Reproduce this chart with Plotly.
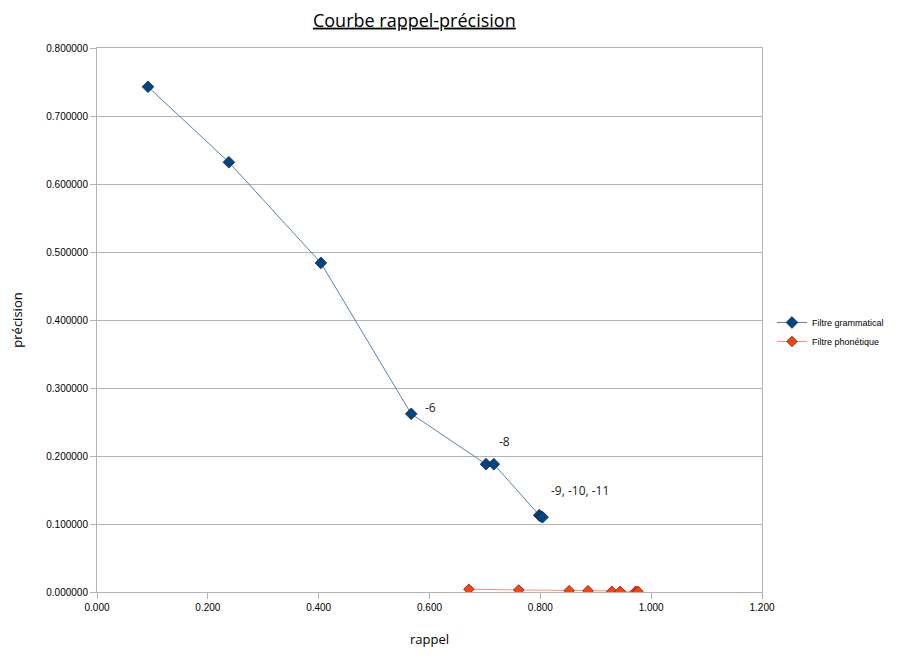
import plotly.graph_objects as go

# Data
gram_rappel = [0.092, 0.238, 0.404, 0.567, 0.702, 0.716, 0.798, 0.801, 0.804]
gram_precision = [0.743, 0.632, 0.484, 0.262, 0.188, 0.188, 0.113, 0.111, 0.110]

phon_rappel = [0.671, 0.761, 0.852, 0.886, 0.929, 0.944, 0.972, 0.976]
phon_precision = [0.004, 0.003, 0.002, 0.002, 0.001, 0.001, 0.001, 0.001]

label_texts = ["-6", "-8", "-9, -10, -11"]
label_x = [0.601, 0.736, 0.871]
label_y = [0.272, 0.222, 0.150]

x_ticks = [0.0, 0.2, 0.4, 0.6, 0.8, 1.0, 1.2]
y_ticks = [0.0, 0.1, 0.2, 0.3, 0.4, 0.5, 0.6, 0.7, 0.8]

fig = go.Figure()
fig.add_trace(go.Scatter(
    x=gram_rappel, y=gram_precision, mode="lines+markers",
    name="Filtre grammatical",
    line=dict(color="#5b7fae", width=1),
    marker=dict(symbol="diamond", size=9, color="#004586",
                line=dict(color="#1a2a3a", width=0.8)),
))
fig.add_trace(go.Scatter(
    x=phon_rappel, y=phon_precision, mode="lines+markers",
    name="Filtre phonétique",
    line=dict(color="#ff8a78", width=1),
    marker=dict(symbol="diamond", size=8, color="#ff420e",
                line=dict(color="#5a1a08", width=0.8)),
))

for t, x, y in zip(label_texts, label_x, label_y):
    fig.add_annotation(x=x, y=y, text=t, showarrow=False,
                       font=dict(family="Open Sans", size=12, color="#222222"))

fig.update_layout(
    width=897, height=649,
    paper_bgcolor="white", plot_bgcolor="white",
    margin=dict(l=89, r=143, t=40, b=65, autoexpand=False),
    title=dict(text="<u>Courbe rappel-précision</u>", x=0.453, xanchor="center",
               y=0.981, yanchor="middle",
               font=dict(family="Open Sans", size=18, color="#000000")),
    legend=dict(x=1.015, y=0.478, xanchor="left", yanchor="middle",
                font=dict(family="Liberation Sans", size=9, color="#000000"),
                itemwidth=30, tracegroupgap=0, bgcolor="rgba(0,0,0,0)"),
    showlegend=True,
)
fig.update_xaxes(
    range=[0, 1.2], tickvals=x_ticks, tickformat=".3f",
    showgrid=False, zeroline=False,
    showline=True, linecolor="#b3b3b3", linewidth=1, mirror=True,
    ticks="outside", ticklen=6, tickcolor="#b3b3b3",
    tickfont=dict(family="Liberation Sans", size=10, color="#000000"),
    title=dict(text="rappel", font=dict(family="Open Sans", size=13, color="#000000"),
               standoff=22),
)
fig.update_yaxes(
    range=[0, 0.8], tickvals=y_ticks, tickformat=".6f",
    showgrid=True, gridcolor="#b3b3b3", gridwidth=1, zeroline=False,
    showline=True, linecolor="#b3b3b3", linewidth=1, mirror=True,
    ticks="outside", ticklen=6, tickcolor="#b3b3b3",
    tickfont=dict(family="Liberation Sans", size=10, color="#000000"),
    title=dict(text="précision", font=dict(family="Open Sans", size=13, color="#000000"),
               standoff=26),
)

fig.write_html("out.html")
